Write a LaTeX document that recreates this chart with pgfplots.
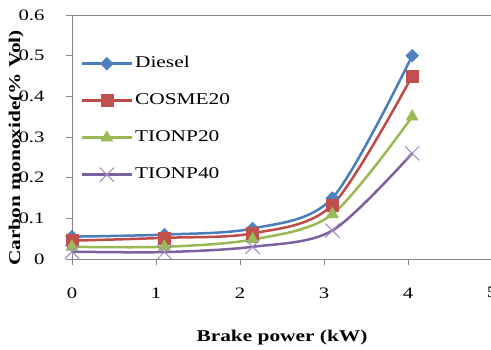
\documentclass[border=0pt]{standalone}
\usepackage{fontspec}
\setmainfont{Liberation Serif}[FakeStretch=1.3]
\usepackage{pgfplots}
\pgfplotsset{compat=1.18}
\definecolor{cDie}{HTML}{4A7EBB}
\definecolor{cDieF}{HTML}{4F81BD}
\definecolor{cCos}{HTML}{BE4B48}
\definecolor{cCosF}{HTML}{C0504D}
\definecolor{cT20}{HTML}{98B954}
\definecolor{cT20F}{HTML}{9BBB59}
\definecolor{cT40}{HTML}{7D60A0}
\definecolor{cT40F}{HTML}{9F8AC0}
\definecolor{axgray}{HTML}{868686}
\begin{document}
\begin{tikzpicture}
\begin{axis}[
  at={(72bp,91bp)}, anchor=south west,
  width=420bp, height=244bp, scale only axis,
  xmin=0, xmax=5, ymin=0, ymax=0.6,
  xtick={0,1,2,3,4,5}, ytick={0,0.1,0.2,0.3,0.4,0.5,0.6},
  axis line style={axgray, line width=0.8bp},
  tick style={axgray, line width=0.8bp},
  tick align=outside, major tick length=6bp,
  xtick pos=bottom, ytick pos=left,
  /pgf/number format/assume math mode=true,
  /pgf/number format/.cd, fixed, precision=1, /pgfplots/.cd,
  ticklabel style={font=\fontsize{16}{16}\selectfont, text=black},
  xticklabel style={yshift=-19bp},
  yticklabel style={xshift=-18bp},
  every axis y label/.style={at={(axis description cs:-0.133,0.455)}, rotate=90, anchor=center},
  every axis x label/.style={at={(axis description cs:0.5,-0.32)}, anchor=center},
  xlabel={\fontsize{16.5}{16.5}\selectfont\bfseries Brake power (kW)},
  ylabel={\fontsize{16.5}{16.5}\selectfont\bfseries Carbon monoxide(\% Vol)},
  legend cell align=left,
  legend image code/.code={\draw[#1, mark repeat=2, mark phase=2] plot coordinates {(0bp,0bp)(25bp,0bp)(50bp,0bp)};},
  legend style={draw=none, fill=none, at={(axis description cs:0.02,0.838)}, anchor=north west,
    font=\fontsize{16.5}{16.5}\selectfont, row sep=19bp, inner sep=0pt,
    nodes={inner sep=2bp, text height=11bp, text depth=3bp}},
  clip=false,
]
\addplot[cDie, line width=2.5bp, smooth, mark=square*, mark options={rotate=45, fill=cDieF, draw=cDieF, line width=0.5bp}, mark size=4.5bp]
  coordinates {(0,0.055)(1.1,0.06)(2.15,0.075)(3.1,0.15)(4.05,0.5)};
\addlegendentry{Diesel}
\addplot[cCos, line width=2.5bp, smooth, mark=square*, mark options={fill=cCosF, draw=cCosF, line width=0.5bp}, mark size=6bp]
  coordinates {(0,0.045)(1.1,0.052)(2.15,0.063)(3.1,0.133)(4.05,0.45)};
\addlegendentry{COSME20}
\addplot[cT20, line width=2.5bp, smooth, mark=triangle*, mark options={fill=cT20F, draw=cT20F, line width=0.5bp}, mark size=7bp]
  coordinates {(0,0.03)(1.1,0.03)(2.15,0.048)(3.1,0.11)(4.05,0.35)};
\addlegendentry{TIONP20}
\addplot[cT40, line width=2.5bp, smooth, mark=x, mark options={draw=cT40F, line width=1bp}, mark size=10bp]
  coordinates {(0,0.018)(1.1,0.017)(2.15,0.03)(3.1,0.07)(4.05,0.26)};
\addlegendentry{TIONP40}
\end{axis}
\pgfresetboundingbox
\path[use as bounding box] (0,0) rectangle (491bp,350bp);
\end{tikzpicture}
\end{document}
